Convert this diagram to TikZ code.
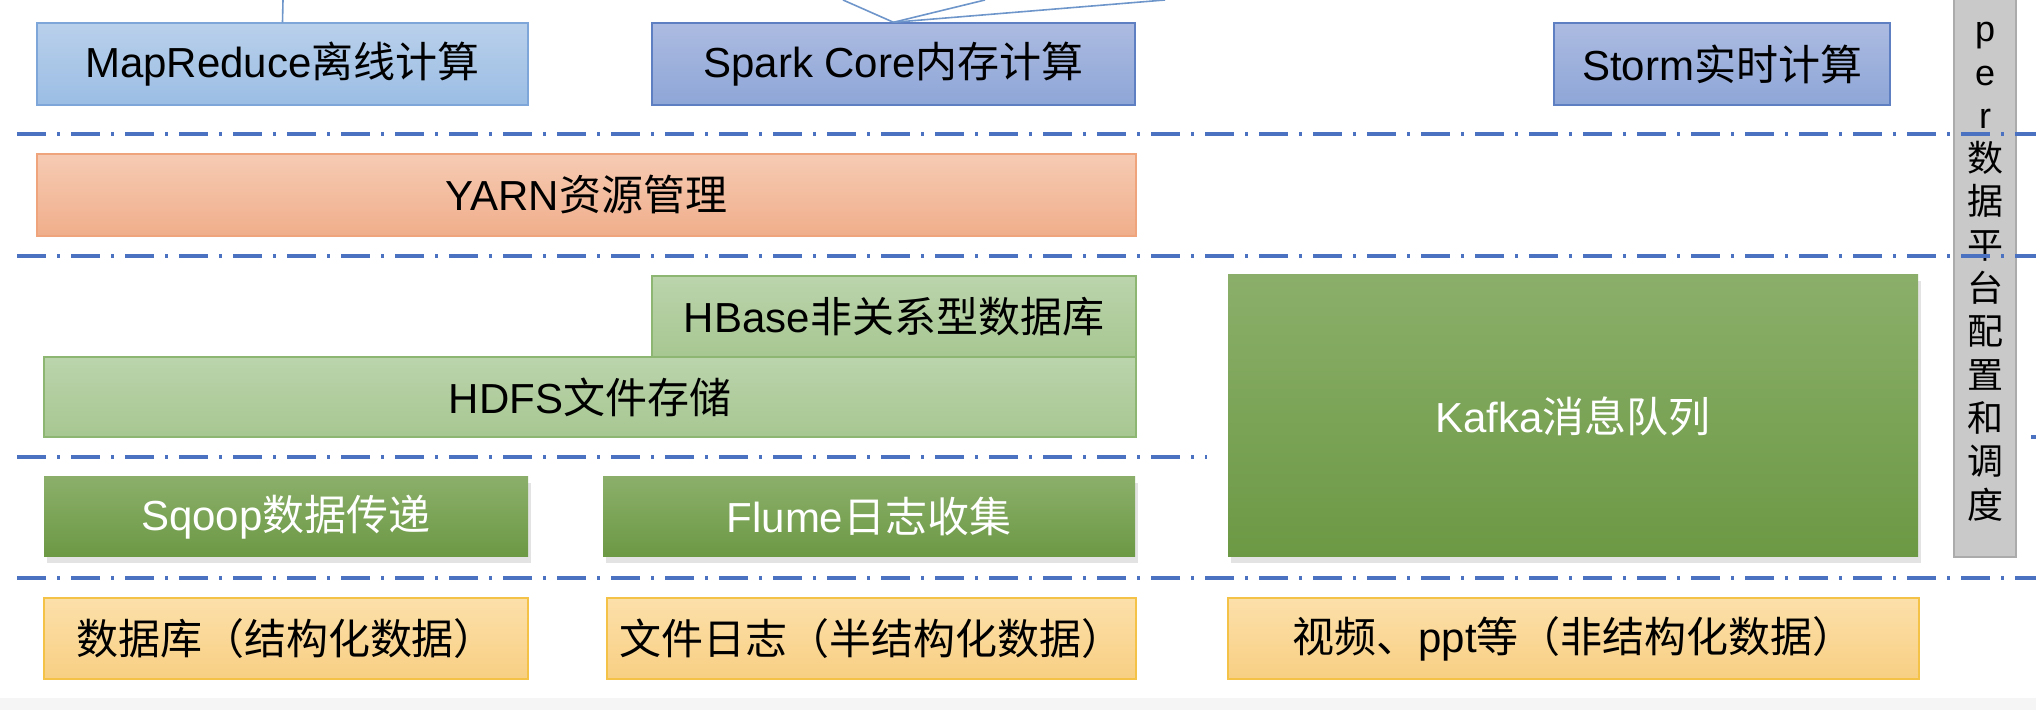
\documentclass[tikz,border=0pt]{standalone}
\usepackage{fontspec}
\setmainfont{Liberation Sans}
\newfontfamily\cjk{Noto Sans CJK SC}
\usepackage{tikz}
\usetikzlibrary{shadows}

\newcommand{\zh}[1]{{\cjk #1}}

\definecolor{laycol}{HTML}{4A72C0}
\definecolor{linkcol}{HTML}{6F96CB}
\definecolor{mrtop}{HTML}{B9D0EB}
\definecolor{mrbot}{HTML}{9BBDE4}
\definecolor{mrline}{HTML}{7EA6D8}
\definecolor{sptop}{HTML}{ACBBE1}
\definecolor{spbot}{HTML}{8EA6D7}
\definecolor{spline}{HTML}{5F7FC3}
\definecolor{yatop}{HTML}{F6CBB3}
\definecolor{yabot}{HTML}{F0AE8B}
\definecolor{yaline}{HTML}{EFA47B}
\definecolor{hdtop}{HTML}{BBD4AC}
\definecolor{hdbot}{HTML}{A7C791}
\definecolor{hdline}{HTML}{8DB672}
\definecolor{gntop}{HTML}{8BAF6A}
\definecolor{gnbot}{HTML}{6C9944}
\definecolor{ortop}{HTML}{FCE0AA}
\definecolor{orbot}{HTML}{F8CF83}
\definecolor{orline}{HTML}{F4C246}
\definecolor{barfill}{HTML}{C9C9C9}
\definecolor{barline}{HTML}{ABABAB}

\begin{document}
\begin{tikzpicture}[
  x=0.5pt, y=-0.5pt,
  every node/.style={inner sep=0pt, font=\fontsize{21}{25}\selectfont},
  box/.style={rectangle, line width=0.7pt, minimum height=41pt},
  mrbox/.style={box, draw=mrline, top color=mrtop, bottom color=mrbot},
  spbox/.style={box, draw=spline, top color=sptop, bottom color=spbot},
  yabox/.style={box, draw=yaline, top color=yatop, bottom color=yabot},
  hdbox/.style={box, draw=hdline, top color=hdtop, bottom color=hdbot, minimum height=40.5pt},
  gnbox/.style={box, top color=gntop, bottom color=gnbot, text=white, minimum height=40pt,
    drop shadow={opacity=0.22, shadow xshift=1.5pt, shadow yshift=-3pt}},
  orbox/.style={box, draw=orline, top color=ortop, bottom color=orbot, minimum height=40.5pt},
  zkbar/.style={rectangle, draw=barline, fill=barfill, line width=0.7pt},
  zktext/.style={align=center, font=\fontsize{18}{21.65}\selectfont},
  layer/.style={draw=laycol, line width=2pt, dash pattern=on 14.5pt off 5.5pt on 1.5pt off 5.5pt},
  link/.style={draw=linkcol, line width=0.8pt}
]
  \useasboundingbox (0,0) rectangle (2036,710);
  \clip (0,0) rectangle (2036,710);
  \fill[black!4] (0,698) rectangle (2036,710);

  % computing layer
  \node[mrbox, minimum width=245.5pt] (mapreduce) at (282.5,64) {MapReduce\zh{离线计算}};
  \node[spbox, minimum width=241.5pt] (spark) at (893.5,64) {Spark Core\zh{内存计算}};
  \node[spbox, minimum width=168pt] (storm) at (1722,64) {Storm\zh{实时计算}};

  % links to the upper part
  \coordinate (up1) at (283,0);
  \coordinate (up2) at (843,0);
  \coordinate (up3) at (985,0);
  \coordinate (up4) at (1165,0);
  \draw[link] (mapreduce.north) -- (up1);
  \draw[link] (spark.north) -- (up2);
  \draw[link] (spark.north) -- (up3);
  \draw[link] (spark.north) -- (up4);

  % resources
  \node[yabox, minimum width=549.5pt] (yarn) at (586.5,195) {YARN\zh{资源管理}};

  % storage
  \node[hdbox, minimum width=242pt] (hbase) at (894,316.5) {HBase\zh{非关系型数据库}};
  \node[hdbox, minimum width=546pt, minimum height=40pt] (hdfs) at (590,397) {HDFS\zh{文件存储}};
  \node[gnbox, minimum width=345pt, minimum height=141pt] (kafka) at (1573,416) {Kafka\zh{消息队列}};

  % transfer
  \node[gnbox, minimum width=242pt] (sqoop) at (286,517) {Sqoop\zh{数据传递}};
  \node[gnbox, minimum width=266pt] (flume) at (869,517) {Flume\zh{日志收集}};

  % data sources
  \node[orbox, minimum width=242pt] (db) at (286,638.5) {\zh{数据库（结构化数据）}};
  \node[orbox, minimum width=264.5pt] (filelog) at (871.5,638.5) {\zh{文件日志（半结构化数据）}};
  \node[orbox, minimum width=345.5pt] (video) at (1573.5,638.5) {\zh{视频、}ppt\zh{等（非结构化数据）}};

  % side bar
  \node[zkbar, minimum width=31pt, minimum height=300pt] (zk) at (1985,257) {};
  \node[zktext, anchor=north] (zklabel) at (1985,22)
    {p\\e\\r\\\zh{数}\\\zh{据}\\\zh{平}\\\zh{台}\\\zh{配}\\\zh{置}\\\zh{和}\\\zh{调}\\\zh{度}};

  % layer separators
  \draw[layer] (17,134) -- (2036,134);
  \draw[layer] (17,256) -- (2036,256);
  \draw[layer] (17,457) -- (1207,457);
  \draw[layer] (17,578) -- (2036,578);
  \draw[layer] (2031,437) -- (2036,437);
\end{tikzpicture}
\end{document}
